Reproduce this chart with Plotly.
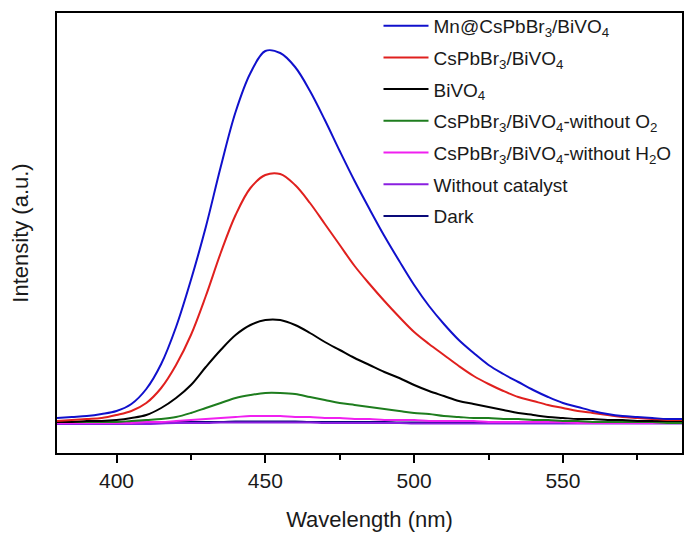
import plotly.graph_objects as go

wavelength = list(range(380, 591, 5))

mn_cspbbr3_bivo4 = [35, 36, 37, 39, 42, 49, 64, 89, 126, 173, 226, 286, 341, 380, 402, 400, 386, 362, 333, 302,
                    272, 244, 217, 192, 168, 147, 129, 113, 100, 88, 79, 71, 63, 56, 50, 46, 42, 39, 37, 36,
                    35, 34, 34]
cspbbr3_bivo4 = [32, 33, 34, 35, 38, 42, 50, 65, 88, 118, 157, 200, 238, 265, 278, 279, 268, 250, 229, 208,
                 187, 169, 152, 136, 121, 109, 98, 87, 77, 69, 62, 56, 52, 48, 45, 42, 40, 38, 36, 35,
                 34, 33, 33]
bivo4 = [31, 31, 32, 32, 33, 35, 38, 45, 55, 68, 86, 103, 118, 128, 133, 133, 128, 120, 111, 103,
         95, 88, 81, 75, 68, 62, 57, 52, 49, 46, 43, 40, 38, 36, 35, 34, 34, 33, 33, 32,
         32, 32, 32]
without_o2 = [31, 31, 31, 31, 31, 32, 33, 34, 36, 40, 45, 50, 55, 58, 60, 60, 59, 56, 53, 50,
              48, 46, 44, 42, 40, 39, 37, 36, 35, 35, 34, 34, 33, 33, 32, 32, 31, 31, 31, 31,
              31, 30, 30]
without_h2o = [30, 30, 30, 30, 30, 30, 31, 31, 32, 33, 34, 35, 36, 37, 37, 37, 36, 36, 35, 35,
               34, 34, 33, 33, 33, 32, 32, 32, 32, 31, 31, 31, 31, 31, 31, 30, 30, 30, 30, 30,
               30, 30, 30]
without_catalyst = [29, 29, 29, 29, 29, 29, 29, 29.5, 30, 30, 30, 30.5, 30.5, 30.5, 30.5, 30.5, 30.5, 30.5, 30, 30,
                    30, 30, 30, 30, 29.5, 29.5, 29.5, 29.5, 29.5, 29.5, 29.5, 29.5, 29.5, 29.5, 29.5, 29.5, 29.5, 29.5, 29.5, 29.5,
                    29.5, 29.5, 29.5]
dark = [30.5, 30.5, 30.5, 30.5, 30.5, 30.5, 30.5, 30.5, 31, 31, 31, 31, 31.5, 31.5, 31.5, 31.5, 31.5, 31, 31, 31,
        31, 31, 31, 30.5, 30.5, 30.5, 30.5, 30.5, 30.5, 30.5, 30.5, 30.5, 30.5, 30.5, 30.5, 30.5, 30.5, 30.5, 30.5, 30.5,
        30.5, 30.5, 30.5]

series_names = [
    "Mn@CsPbBr<sub>3</sub>/BiVO<sub>4</sub>",
    "CsPbBr<sub>3</sub>/BiVO<sub>4</sub>",
    "BiVO<sub>4</sub>",
    "CsPbBr<sub>3</sub>/BiVO<sub>4</sub>-without O<sub>2</sub>",
    "CsPbBr<sub>3</sub>/BiVO<sub>4</sub>-without H<sub>2</sub>O",
    "Without catalyst",
    "Dark",
]
series_values = [mn_cspbbr3_bivo4, cspbbr3_bivo4, bivo4, without_o2, without_h2o, without_catalyst, dark]
colors = ["#1010CC", "#E0201E", "#000000", "#1E7D1E", "#F020F0", "#8A1FE0", "#0A0A7A"]

fig = go.Figure()
draw_order = [6, 5, 4, 3, 2, 1, 0]
for i in draw_order:
    fig.add_trace(go.Scatter(
        x=wavelength, y=series_values[i], mode="lines", name=series_names[i],
        line=dict(color=colors[i], width=2, shape="spline", smoothing=1.0),
        legendrank=i + 1, legendgroup=f"g{i}",
    ))

fig.update_layout(
    width=684, height=533,
    margin=dict(l=57, r=2, t=13, b=80, autoexpand=False),
    paper_bgcolor="white", plot_bgcolor="white",
    font=dict(family="Liberation Sans, Arial, sans-serif", size=21, color="#1a1a1a"),
    showlegend=True,
    legend=dict(x=0.5144, y=1.014, xanchor="left", yanchor="top", bgcolor="rgba(0,0,0,0)",
                font=dict(size=19, color="#1a1a1a"), traceorder="grouped", tracegroupgap=4,
                itemwidth=45),
)
fig.update_xaxes(
    range=[380, 590], tickvals=[400, 450, 500, 550], ticks="outside", ticklen=8, tickwidth=2,
    tickcolor="black", showline=True, linecolor="black", linewidth=2, mirror=True,
    showgrid=False, zeroline=False, automargin=False,
    minor=dict(tickvals=[425, 475, 525, 575], ticks="outside", ticklen=5, tickwidth=2, tickcolor="black"),
    title=dict(text="Wavelength (nm)", font=dict(size=22), standoff=20),
    tickfont=dict(size=21),
)
fig.update_yaxes(
    range=[0, 440], showticklabels=False, ticks="", showline=True, linecolor="black", linewidth=2,
    mirror=True, showgrid=False, zeroline=False, automargin=False,
    title=dict(text="Intensity (a.u.)", font=dict(size=22), standoff=20),
)

fig.write_html(
    "out.html",
    config={"displayModeBar": False},
    post_script="document.body.style.margin='0';document.body.style.overflow='hidden';",
)
